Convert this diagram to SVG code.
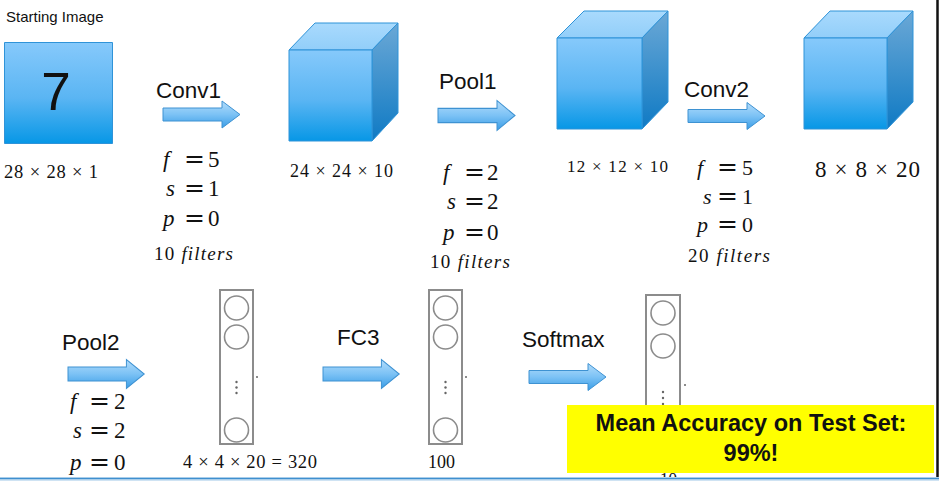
<svg xmlns="http://www.w3.org/2000/svg" width="939" height="481" viewBox="0 0 939 481">
<defs>
<linearGradient id="gFront" x1="0" y1="0" x2="0" y2="1"><stop offset="0" stop-color="#86C9FB"/><stop offset="0.55" stop-color="#5AB5F3"/><stop offset="1" stop-color="#0797E6"/></linearGradient>
<linearGradient id="gTop" x1="0" y1="0" x2="0" y2="1"><stop offset="0" stop-color="#A9DAFD"/><stop offset="1" stop-color="#92CEF9"/></linearGradient>
<linearGradient id="gSide" x1="0" y1="0" x2="0" y2="1"><stop offset="0" stop-color="#6BA8D6"/><stop offset="1" stop-color="#0F7AC4"/></linearGradient>
<linearGradient id="gArrow" x1="0" y1="0" x2="0" y2="1"><stop offset="0" stop-color="#B2DCFB"/><stop offset="0.5" stop-color="#7CC2F5"/><stop offset="1" stop-color="#3A9DE6"/></linearGradient>
<path id="arr" d="M0,-6.5 H59 V-13.5 L77,0 L59,13.5 V6.5 H0 Z"/>
<style>
.sans{font-family:"Liberation Sans",Arial,sans-serif;fill:#111}
.lbl{font-size:22.5px}
.m{font-family:"Liberation Serif","DejaVu Serif",serif;fill:#111}
.i{font-style:italic}
.eq{font-family:"DejaVu Sans",sans-serif;font-size:25px}
.dim{font-size:18.5px}
.face{stroke:#2F93D8;stroke-width:1;stroke-linejoin:round}
.col{fill:#fff;stroke:#8C8C8C;stroke-width:2}
.neu{fill:none;stroke:#8C8C8C;stroke-width:1.6}
.dot{fill:#666}
.arrow{fill:url(#gArrow);stroke:#3E92D2;stroke-width:1}
</style>
</defs>
<rect x="0" y="0" width="939" height="481" fill="#fff"/>

<g id="start-image">
<text class="sans" x="6" y="22" font-size="15">Starting Image</text>
<rect x="4.5" y="42.5" width="108" height="101" fill="url(#gFront)" class="face"/>
<text class="sans" x="56" y="110" font-size="53" text-anchor="middle">7</text>
<text class="m dim" x="4" y="178" textLength="94" lengthAdjust="spacing">28 × 28 × 1</text>
</g>

<g id="cube-24">
<polygon class="face" points="289,50 315,23 398,23 372,50" fill="url(#gTop)"/>
<polygon class="face" points="372,50 398,23 398,113 372,141" fill="url(#gSide)"/>
<rect class="face" x="289" y="50" width="83" height="91" fill="url(#gFront)"/>
<text class="m" x="290" y="177" font-size="18" textLength="103" lengthAdjust="spacing">24 × 24 × 10</text>
</g>

<g id="cube-12">
<polygon class="face" points="557,38 584,11 668,11 642,38" fill="url(#gTop)"/>
<polygon class="face" points="642,38 668,11 668,102 642,129" fill="url(#gSide)"/>
<rect class="face" x="557" y="38" width="85" height="91" fill="url(#gFront)"/>
<text class="m" x="567" y="172" font-size="17" textLength="101" lengthAdjust="spacing">12 × 12 × 10</text>
</g>

<g id="cube-8">
<polygon class="face" points="804,38 830,11 913,11 887,38" fill="url(#gTop)"/>
<polygon class="face" points="887,38 913,11 913,102 887,129" fill="url(#gSide)"/>
<rect class="face" x="804" y="38" width="83" height="91" fill="url(#gFront)"/>
<text class="m" x="815" y="177" font-size="23" textLength="105" lengthAdjust="spacing">8 × 8 × 20</text>
</g>

<g id="fc-320">
<rect class="col" x="220" y="290" width="33" height="154"/>
<circle class="neu" cx="236.5" cy="308" r="12"/>
<circle class="neu" cx="236.5" cy="337" r="12"/>
<circle class="neu" cx="236.5" cy="430" r="12"/>
<circle class="dot" cx="236.5" cy="382" r="1.2"/>
<circle class="dot" cx="236.5" cy="387.5" r="1.2"/>
<circle class="dot" cx="236.5" cy="393" r="1.2"/>
<circle class="dot" cx="257" cy="377" r="1"/>
<text class="m" x="183" y="468" font-size="18.5" textLength="134" lengthAdjust="spacing">4 × 4 × 20 = 320</text>
</g>

<g id="fc-100">
<rect class="col" x="429" y="290" width="33" height="154"/>
<circle class="neu" cx="445.5" cy="308" r="12"/>
<circle class="neu" cx="445.5" cy="337" r="12"/>
<circle class="neu" cx="445.5" cy="430" r="12"/>
<circle class="dot" cx="445.5" cy="382" r="1.2"/>
<circle class="dot" cx="445.5" cy="387.5" r="1.2"/>
<circle class="dot" cx="445.5" cy="393" r="1.2"/>
<circle class="dot" cx="466" cy="377" r="1"/>
<text class="m" x="428" y="468" font-size="18">100</text>
</g>

<g id="softmax-10">
<rect class="col" x="646" y="295" width="34" height="154"/>
<circle class="neu" cx="663" cy="313" r="12"/>
<circle class="neu" cx="663" cy="346" r="12"/>
<circle class="neu" cx="663" cy="440" r="12"/>
<circle class="dot" cx="663" cy="392" r="1.2"/>
<circle class="dot" cx="663" cy="398" r="1.2"/>
<circle class="dot" cx="663" cy="404" r="1.2"/>
<circle class="dot" cx="685" cy="385" r="1"/>
<text class="m" x="660" y="484" font-size="17">10</text>
</g>

<g id="connectors">
<use href="#arr" class="arrow" transform="translate(163,114.5)"/>
<use href="#arr" class="arrow" transform="translate(438,115.5) scale(1,1.1)"/>
<use href="#arr" class="arrow" transform="translate(688,116)"/>
<use href="#arr" class="arrow" transform="translate(68,374) scale(0.99,1.07)"/>
<use href="#arr" class="arrow" transform="translate(323,374) scale(0.99,1.07)"/>
<use href="#arr" class="arrow" transform="translate(529,377)"/>
</g>

<g id="conv1-label">
<text class="sans lbl" x="156" y="98">Conv1</text>
<text class="m" font-size="23" y="167"><tspan class="i" x="163">f</tspan><tspan class="eq" x="184">=</tspan><tspan x="208">5</tspan></text>
<text class="m" font-size="23" y="196"><tspan class="i" x="166">s</tspan><tspan class="eq" x="184">=</tspan><tspan x="208">1</tspan></text>
<text class="m" font-size="23" y="226"><tspan class="i" x="163">p</tspan><tspan class="eq" x="184">=</tspan><tspan x="208">0</tspan></text>
<text class="m" font-size="19" x="154" y="260" textLength="79" lengthAdjust="spacing">10 <tspan class="i">filters</tspan></text>
</g>

<g id="pool1-label">
<text class="sans lbl" x="439" y="89">Pool1</text>
<text class="m" font-size="23" y="180"><tspan class="i" x="443">f</tspan><tspan class="eq" x="464">=</tspan><tspan x="487">2</tspan></text>
<text class="m" font-size="23" y="209"><tspan class="i" x="447">s</tspan><tspan class="eq" x="464">=</tspan><tspan x="487">2</tspan></text>
<text class="m" font-size="23" y="240"><tspan class="i" x="443">p</tspan><tspan class="eq" x="464">=</tspan><tspan x="487">0</tspan></text>
<text class="m" font-size="19" x="430" y="268" textLength="80" lengthAdjust="spacing">10 <tspan class="i">filters</tspan></text>
</g>

<g id="conv2-label">
<text class="sans lbl" x="684" y="97">Conv2</text>
<text class="m" font-size="22" y="175"><tspan class="i" x="697">f</tspan><tspan class="eq" x="717">=</tspan><tspan x="742">5</tspan></text>
<text class="m" font-size="22" y="204"><tspan class="i" x="703">s</tspan><tspan class="eq" x="717">=</tspan><tspan x="742">1</tspan></text>
<text class="m" font-size="22" y="232"><tspan class="i" x="697">p</tspan><tspan class="eq" x="717">=</tspan><tspan x="742">0</tspan></text>
<text class="m" font-size="19" x="688" y="262" textLength="82" lengthAdjust="spacing">20 <tspan class="i">filters</tspan></text>
</g>

<g id="pool2-label">
<text class="sans lbl" x="62" y="350">Pool2</text>
<text class="m" font-size="23" y="409"><tspan class="i" x="70">f</tspan><tspan class="eq" x="89">=</tspan><tspan x="114">2</tspan></text>
<text class="m" font-size="23" y="438"><tspan class="i" x="73">s</tspan><tspan class="eq" x="89">=</tspan><tspan x="114">2</tspan></text>
<text class="m" font-size="23" y="470"><tspan class="i" x="70">p</tspan><tspan class="eq" x="89">=</tspan><tspan x="114">0</tspan></text>
</g>

<g id="fc3-label">
<text class="sans lbl" x="337" y="345">FC3</text>
</g>

<g id="softmax-label">
<text class="sans lbl" x="522" y="347">Softmax</text>
</g>

<g id="accuracy-box">
<rect x="567" y="405" width="367" height="68" fill="#FFFF00"/>
<text class="sans" x="751" y="431" font-size="23.5" font-weight="bold" text-anchor="middle">Mean Accuracy on Test Set:</text>
<text class="sans" x="751" y="461" font-size="23.5" font-weight="bold" text-anchor="middle">99%!</text>
</g>

<line x1="937.5" y1="0" x2="937.5" y2="477" stroke="#111" stroke-width="2.5"/>
<rect x="0" y="477" width="939" height="4" fill="#CFE3F3"/>
<line x1="0" y1="478.5" x2="939" y2="478.5" stroke="#3F8FCF" stroke-width="1.6"/>
</svg>
